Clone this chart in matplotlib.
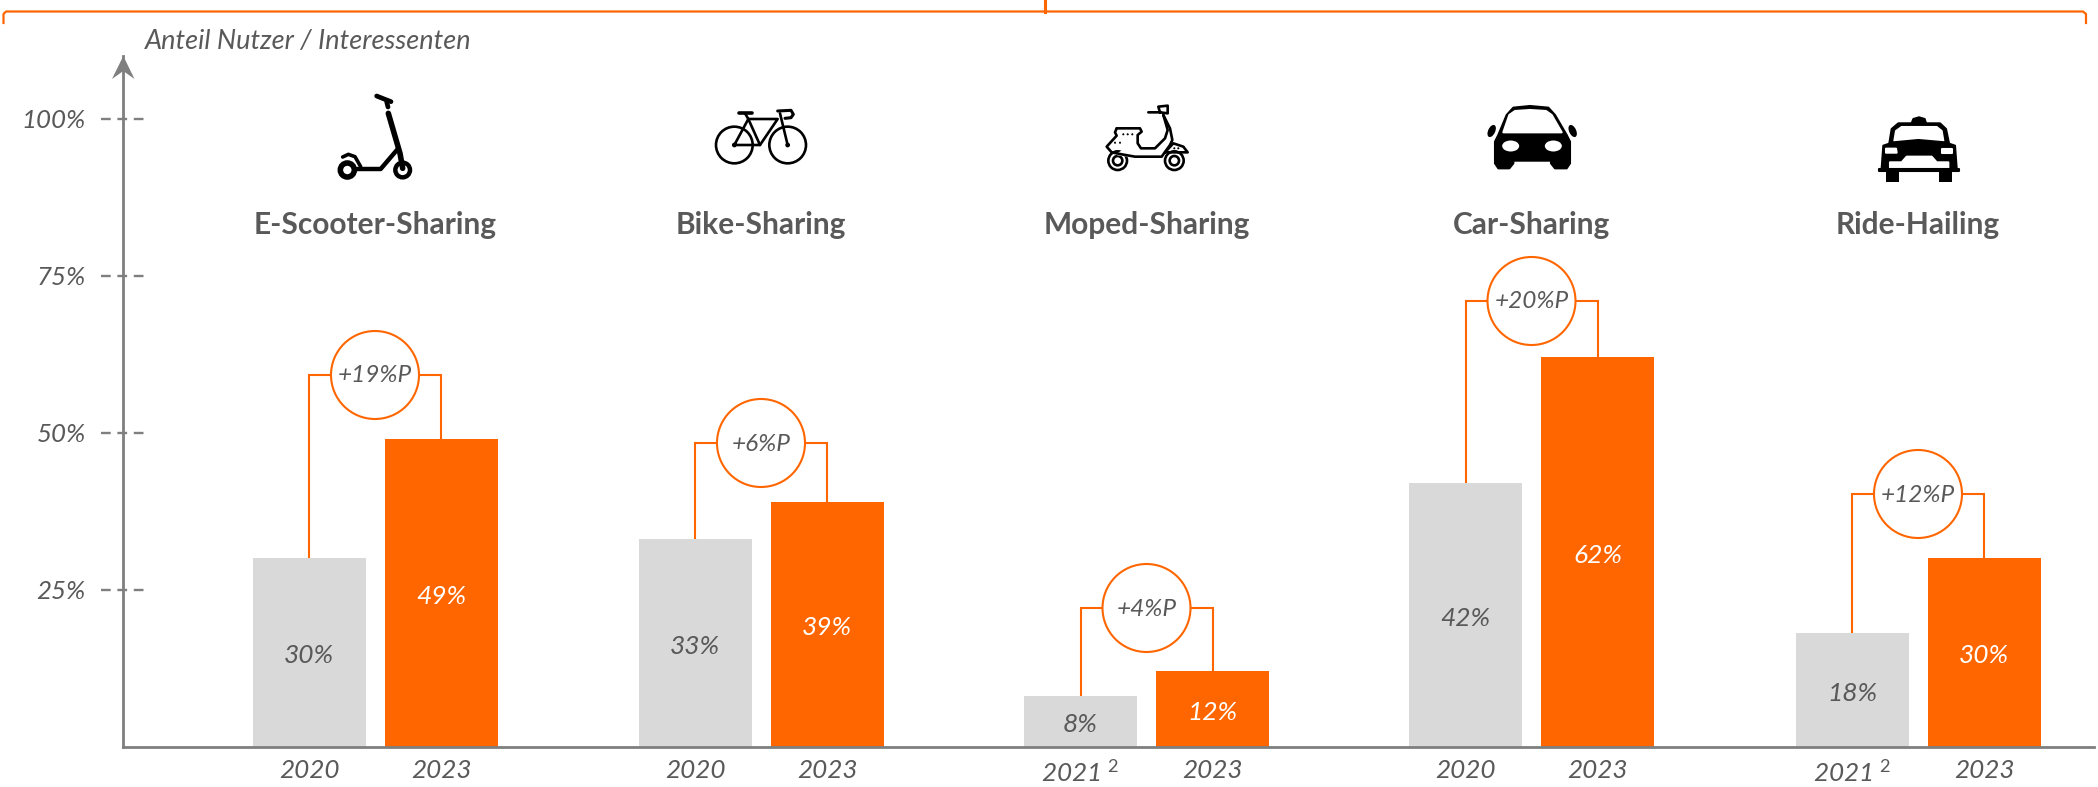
import matplotlib
matplotlib.use("Agg")
import matplotlib.pyplot as plt
from matplotlib.patches import Circle, Ellipse, Polygon, Rectangle

plt.rcParams["font.family"] = ["Lato", "DejaVu Sans"]
plt.rcParams["lines.scale_dashes"] = False
plt.rcParams["mathtext.fontset"] = "custom"
plt.rcParams["mathtext.rm"] = "Lato"
plt.rcParams["mathtext.it"] = "Lato:italic"

# --------------------------------------------------------
# Data
# --------------------------------------------------------

categories = ["E-Scooter-Sharing", "Bike-Sharing", "Moped-Sharing", "Car-Sharing", "Ride-Hailing"]
first_years = ["2020", "2020", r"2021 $^{\mathit{2}}$", "2020", r"2021 $^{\mathit{2}}$"]
second_years = ["2023", "2023", "2023", "2023", "2023"]
first_values = [30, 33, 8, 42, 18]
second_values = [49, 39, 12, 62, 30]
deltas = ["+19%P", "+6%P", "+4%P", "+20%P", "+12%P"]
y_ticks = [25, 50, 75, 100]
y_labels = ["25%", "50%", "75%", "100%"]

# --------------------------------------------------------
# Layout (pixels of the 2098x787 picture)
# --------------------------------------------------------

W, H = 2098, 787
X_AXIS, X_END = 123.3, 2094
Y_BASE, Y_TOP = 746.5, 56
PX_PER_PCT = 6.28
BAR_W = 113
group_x = [375, 761, 1146.5, 1531.5, 1918]
bar_offset = 66
bracket_py = [375, 443, 608, 301, 494]
CIRCLE_R = 44

ORANGE = "#FF6600"
GREY = "#D9D9D9"
AXIS = "#7F7F7F"
TEXT = "#595959"
DARK = "#000000"

fig = plt.figure(figsize=(W / 100, H / 100), dpi=100)
ax = fig.add_axes([X_AXIS / W, (H - Y_BASE) / H, (X_END - X_AXIS) / W, (Y_BASE - Y_TOP) / H])
ax.set_xlim(X_AXIS, X_END)
ax.set_ylim(0, (Y_BASE - Y_TOP) / PX_PER_PCT)
ax.patch.set_alpha(0)

# --------------------------------------------------------
# Bars and brackets
# --------------------------------------------------------

first_x = [g - bar_offset for g in group_x]
second_x = [g + bar_offset for g in group_x]

ax.bar(first_x, first_values, width=BAR_W, color=GREY, zorder=2)
ax.bar(second_x, second_values, width=BAR_W, color=ORANGE, zorder=2)

TEXT_DROP = 3.5 / PX_PER_PCT

for i in range(5):
    level = (Y_BASE - bracket_py[i]) / PX_PER_PCT
    ax.plot([first_x[i], first_x[i], second_x[i], second_x[i]],
            [first_values[i], level, level, second_values[i]],
            color=ORANGE, lw=1.5, solid_joinstyle="miter", zorder=1)
    ax.add_patch(Ellipse((group_x[i], level), CIRCLE_R * 2, CIRCLE_R * 2 / PX_PER_PCT,
                         facecolor="white", edgecolor=ORANGE, lw=1.5, zorder=3))
    ax.text(group_x[i], level - 1 / PX_PER_PCT, deltas[i], ha="center", va="center",
            style="italic", fontsize=17.6, color=TEXT, zorder=4)
    ax.text(first_x[i], first_values[i] / 2 - TEXT_DROP, f"{first_values[i]}%", ha="center", va="center",
            style="italic", fontsize=19, color=TEXT, zorder=4)
    ax.text(second_x[i], second_values[i] / 2 - TEXT_DROP, f"{second_values[i]}%", ha="center", va="center",
            style="italic", fontsize=19, color="white", zorder=4)

# --------------------------------------------------------
# Axes
# --------------------------------------------------------

for side in ["top", "right"]:
    ax.spines[side].set_visible(False)
for side in ["left", "bottom"]:
    ax.spines[side].set_color(AXIS)
    ax.spines[side].set_linewidth(2)

ax.set_xticks(first_x + second_x, first_years + second_years)
ax.set_yticks(y_ticks, y_labels)
ax.tick_params(axis="x", length=0, pad=9, labelsize=18.8, labelcolor=TEXT)
ax.tick_params(axis="y", length=0, pad=27, labelsize=18.6, labelcolor=TEXT)
for label in ax.get_xticklabels() + ax.get_yticklabels():
    label.set_style("italic")

for v in y_ticks:
    ax.plot([101, 144], [v, v], color=AXIS, lw=1.7, dashes=(7, 4.8), clip_on=False, zorder=1)

# --------------------------------------------------------
# Overlay in pixel coordinates: brace, arrow, titles, icons
# --------------------------------------------------------

ov = fig.add_axes([0, 0, 1, 1])
ov.set_xlim(0, W)
ov.set_ylim(H, 0)
ov.axis("off")
ov.patch.set_alpha(0)

ov.plot([3.5, 3.5, 6, 2083, 2086, 2086], [23, 14, 11.5, 11.5, 14, 23], color=ORANGE, lw=1.6)
ov.plot([1045, 1045], [0, 11.5], color=ORANGE, lw=2.2)

ov.add_patch(Polygon([(123.3, 56), (112, 79), (123.3, 71), (134.5, 79)], color=AXIS, lw=0))
ov.text(145, 42, "Anteil Nutzer / Interessenten", ha="left", va="center",
        style="italic", fontsize=19.5, color=TEXT)

for g, name in zip(group_x, categories):
    ov.text(g, 225, name, ha="center", va="center", fontweight="bold", fontsize=21.5, color=TEXT)


def icon_pts(x0, y0, pts):
    return [(x0 + x / 3, y0 + y / 3) for x, y in pts]


def stroke(x0, y0, pts, lw=2.0):
    p = icon_pts(x0, y0, pts)
    ov.plot([a for a, _ in p], [b for _, b in p], color=DARK, lw=lw,
            solid_capstyle="round", solid_joinstyle="round")


def ring(x0, y0, cx, cy, r, lw=2.0, fill="none"):
    ov.add_patch(Circle((x0 + cx / 3, y0 + cy / 3), r / 3, facecolor=fill, edgecolor=DARK, lw=lw))


def blob(x0, y0, pts, color=DARK):
    ov.add_patch(Polygon(icon_pts(x0, y0, pts), closed=True, facecolor=color, edgecolor=color,
                         lw=1.5, joinstyle="round"))


# scooter
x0, y0 = 320, 85
stroke(x0, y0, [(170, 33), (195, 43), (213, 50)], 3.4)
stroke(x0, y0, [(200, 50), (204, 66)], 3.4)
stroke(x0, y0, [(205, 85), (240, 205), (248, 250)], 4.0)
stroke(x0, y0, [(110, 252), (182, 252), (235, 190)], 3.2)
stroke(x0, y0, [(68, 216), (85, 208), (105, 215), (122, 245)], 2.6)
ring(x0, y0, 82, 255, 21, 4.0)
ring(x0, y0, 248, 255, 22, 3.2)

# bike
x0, y0 = 705, 95
ring(x0, y0, 88, 150, 55, 1.9)
ring(x0, y0, 248, 150, 55, 1.9)
stroke(x0, y0, [(88, 150), (130, 72), (165, 150), (88, 150)], 1.9)
stroke(x0, y0, [(130, 72), (218, 72), (165, 150)], 1.9)
stroke(x0, y0, [(120, 55), (130, 72)], 1.9)
stroke(x0, y0, [(103, 53), (142, 53)], 2.6)
stroke(x0, y0, [(248, 150), (225, 55)], 1.9)
stroke(x0, y0, [(218, 48), (258, 46), (265, 58), (258, 68), (240, 70)], 2.2)
ring(x0, y0, 88, 150, 5, 1, DARK)
ring(x0, y0, 248, 150, 5, 1, DARK)

# moped
x0, y0 = 1095, 95
for cx in [68, 238]:
    ring(x0, y0, cx, 197, 28, 1.9)
    ring(x0, y0, cx, 197, 14, 1.9)
blob(x0, y0, [(68, 178), (120, 185), (200, 185), (215, 170), (80, 170)], "white")
stroke(x0, y0, [(65, 100), (135, 100), (140, 110), (128, 120), (128, 145), (138, 160), (180, 160),
                (210, 130), (218, 105), (205, 60)], 1.9)
stroke(x0, y0, [(65, 100), (60, 112), (65, 122), (35, 155), (50, 172), (80, 178), (120, 185),
                (200, 185), (225, 150), (232, 135), (225, 100), (205, 60)], 1.9)
stroke(x0, y0, [(210, 172), (235, 145), (265, 155), (278, 172), (210, 172)], 1.9)
stroke(x0, y0, [(160, 52), (195, 52), (190, 35), (218, 32), (218, 55), (195, 52)], 1.9)
for cx in [85, 98, 112, 60, 75, 238, 250]:
    cy = 118 if cx > 80 and cx < 120 else (143 if cx < 80 else 160)
    ring(x0, y0, cx, cy, 2, 0.5, DARK)

# car
x0, y0 = 1470, 95
blob(x0, y0, [(110, 60), (130, 38), (180, 33), (235, 38), (255, 60), (290, 120), (300, 140), (300, 205),
              (290, 220), (255, 220), (243, 205), (243, 197), (130, 197), (130, 205), (118, 220),
              (85, 220), (75, 205), (75, 140), (85, 120)])
blob(x0, y0, [(118, 60), (135, 48), (180, 45), (228, 48), (245, 60), (275, 112), (100, 112)], "white")
ov.add_patch(Ellipse((x0 + 122 / 3, y0 + 153 / 3), 17, 11, facecolor="white", lw=0))
ov.add_patch(Ellipse((x0 + 250 / 3, y0 + 153 / 3), 17, 11, facecolor="white", lw=0))
ov.add_patch(Ellipse((x0 + 65 / 3, y0 + 108 / 3), 7, 13, angle=25, facecolor=DARK, lw=0))
ov.add_patch(Ellipse((x0 + 308 / 3, y0 + 108 / 3), 7, 13, angle=-25, facecolor=DARK, lw=0))

# taxi
x0, y0 = 1860, 105
blob(x0, y0, [(155, 55), (160, 42), (177, 37), (194, 42), (198, 55)])
blob(x0, y0, [(88, 115), (95, 72), (115, 55), (240, 55), (258, 72), (267, 115)])
blob(x0, y0, [(103, 108), (108, 78), (125, 66), (230, 66), (245, 78), (250, 108), (175, 103)], "white")
blob(x0, y0, [(70, 122), (100, 112), (175, 105), (255, 112), (285, 122), (290, 190), (65, 190)])
blob(x0, y0, [(78, 131), (108, 131), (110, 143), (78, 143)], "white")
blob(x0, y0, [(245, 131), (275, 131), (275, 143), (245, 143)], "white")
blob(x0, y0, [(90, 172), (125, 172), (140, 155), (215, 155), (230, 172), (265, 172), (265, 188), (90, 188)], "white")
blob(x0, y0, [(57, 192), (297, 192), (297, 199), (57, 199)])
ov.add_patch(Rectangle((x0 + 77 / 3, y0 + 195 / 3), 13, 12, facecolor=DARK, lw=0))
ov.add_patch(Rectangle((x0 + 238 / 3, y0 + 195 / 3), 13, 12, facecolor=DARK, lw=0))

fig.savefig("out.png", dpi=100)
